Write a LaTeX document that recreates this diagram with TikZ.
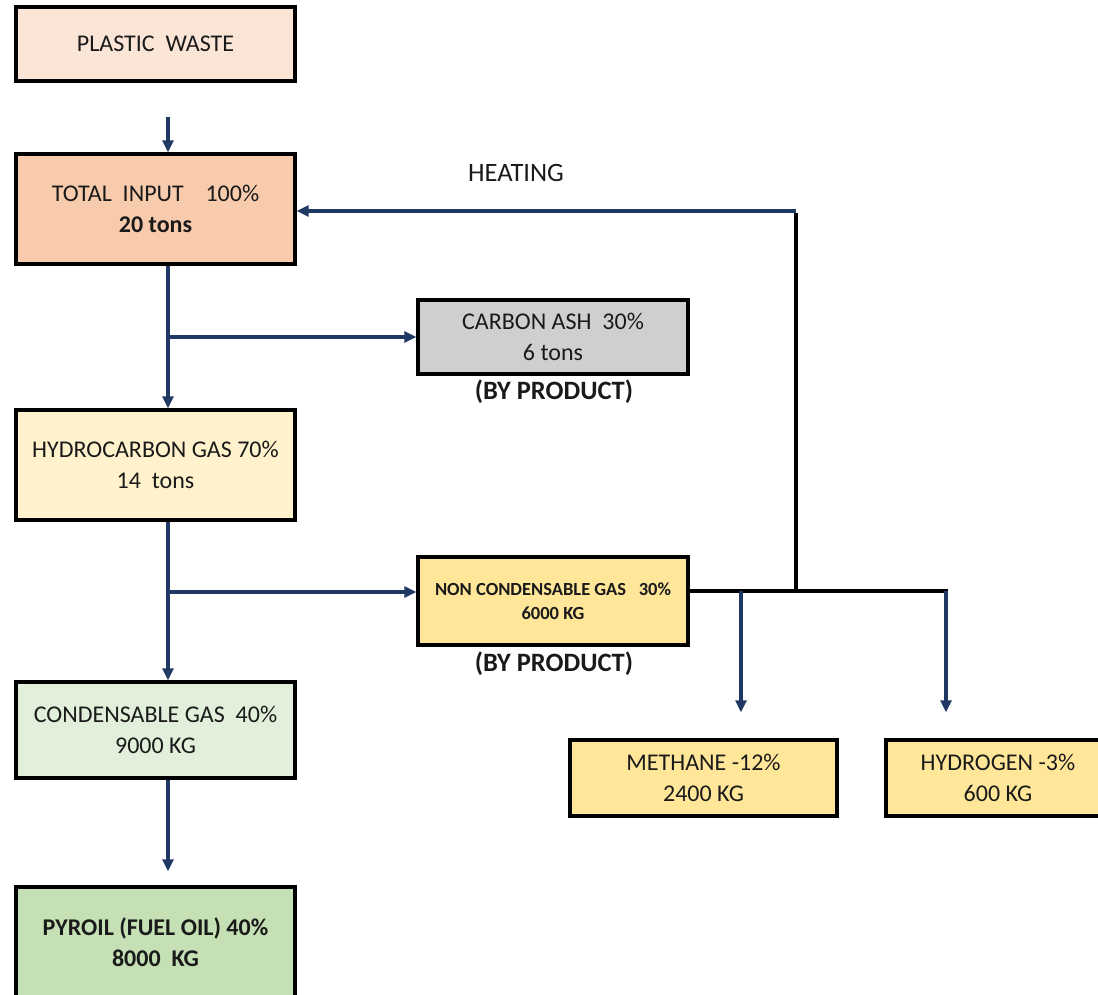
\documentclass[tikz,border=0pt]{standalone}
\usepackage{fontspec}
\setmainfont{Carlito}
\usetikzlibrary{arrows.meta}
\definecolor{navy}{HTML}{1F3864}
\definecolor{cpeach}{HTML}{FBE5D6}
\definecolor{corange}{HTML}{F8CBAD}
\definecolor{cgray}{HTML}{D0CECE}
\definecolor{clyellow}{HTML}{FFF2CC}
\definecolor{cyellow}{HTML}{FFE699}
\definecolor{clgreen}{HTML}{E2EFDA}
\definecolor{cgreen}{HTML}{C5E0B4}
\definecolor{ctext}{HTML}{1A1A1A}
\begin{document}
\begin{tikzpicture}[x=1pt,y=-1pt,
  box/.style={draw=black, line width=3.4pt, align=center, inner sep=0pt, text=ctext,
    font=\fontsize{24}{31}\selectfont},
  arr/.style={draw=navy, line width=3.2pt, -{Triangle[length=12pt,width=11pt]}},
  net/.style={draw=black, line width=3.6pt},
  lbl/.style={text=ctext, inner sep=0pt, font=\fontsize{26.5}{30}\selectfont\bfseries},
  ]
\useasboundingbox (0,0) rectangle (1098,995);
\fill[white] (0,0) rectangle (1098,995);

\node[box, fill=cpeach, minimum width=279, minimum height=74] (pw) at (155.5,44) {PLASTIC\ \ WASTE};
\node[box, fill=corange, minimum width=279, minimum height=110] (ti) at (155.5,209) {TOTAL\ \ INPUT\ \ \ \ 100\%\\\textbf{20 tons}};
\node[box, fill=cgray, minimum width=270, minimum height=74] (ca) at (553,337) {CARBON ASH\ \ 30\%\\6 tons};
\node[box, fill=clyellow, minimum width=279, minimum height=110] (hc) at (155.5,465) {HYDROCARBON GAS 70\%\\14\ \ tons};
\node[box, fill=cyellow, minimum width=270, minimum height=88,
  font=\fontsize{18.5}{24}\selectfont\bfseries] (ncg) at (553,601) {NON CONDENSABLE GAS\ \ \ 30\%\\6000 KG};
\node[box, fill=clgreen, minimum width=279, minimum height=96] (cg) at (155.5,730) {CONDENSABLE GAS\ \ 40\%\\9000 KG};
\node[box, fill=cgreen, minimum width=279, minimum height=110,
  font=\fontsize{24}{31}\selectfont\bfseries] (py) at (155.5,942) {PYROIL (FUEL OIL) 40\%\\8000\ \ KG};
\node[box, fill=cyellow, minimum width=267, minimum height=76] (me) at (703.5,778) {METHANE -12\%\\2400 KG};
\node[box, fill=cyellow, minimum width=224, minimum height=76] (hy) at (998,778) {HYDROGEN -3\%\\600 KG};

\node[text=ctext, inner sep=0pt, font=\fontsize{26.5}{30}\selectfont] (heat) at (516,173) {HEATING};
\node[lbl] (bp1) at (554,392) {(BY PRODUCT)};
\node[lbl] (bp2) at (554,664) {(BY PRODUCT)};

% coordinates
\coordinate (pwa) at (168,117);
\coordinate (hj) at (796,211);
\coordinate (nj) at (796,591);
\coordinate (ne) at (946,591);
\coordinate (mj) at (741,591);
\coordinate (b1) at (170,337);
\coordinate (b2) at (170,592);

% heating network
\draw[net] (ncg.east |- nj) -- ([xshift=1.8pt]ne);
\draw[net] ([yshift=-1.8pt]hj) -- (nj);
\draw[arr] (hj) -- (ti.east |- hj);

% main flow
\draw[arr] (pwa) -- (ti.north -| pwa);
\draw[arr] (ti.south -| pwa) -- (hc.north -| pwa);
\draw[arr] (b1) -- (ca.west |- b1);
\draw[arr] (hc.south -| pwa) -- (cg.north -| pwa);
\draw[arr] (b2) -- (ncg.west |- b2);
\draw[arr, shorten >=14pt] (cg.south -| pwa) -- (py.north -| pwa);
\draw[arr, shorten >=26pt] (mj) -- (me.north -| mj);
\draw[arr, shorten >=26pt] (ne) -- (hy.north -| ne);
\end{tikzpicture}
\end{document}
